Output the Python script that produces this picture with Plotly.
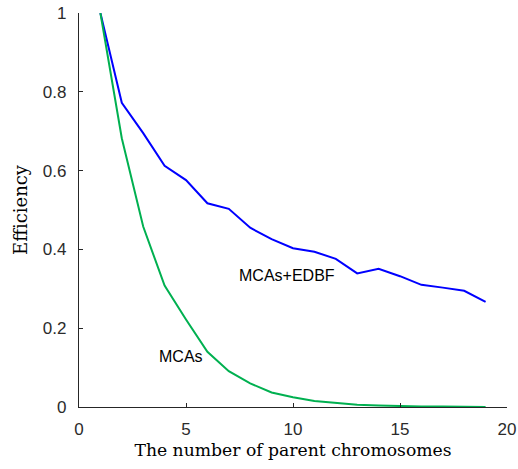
import plotly.graph_objects as go

parents = list(range(1, 20))
mcas_edbf = [1.0, 0.772, 0.695, 0.612, 0.576, 0.517, 0.503, 0.455, 0.426, 0.403,
             0.394, 0.376, 0.339, 0.351, 0.332, 0.310, 0.303, 0.295, 0.267]
mcas = [1.0, 0.682, 0.458, 0.308, 0.222, 0.140, 0.091, 0.060, 0.037, 0.025,
        0.015, 0.010, 0.006, 0.004, 0.002, 0.001, 0.001, 0.0, 0.0]

x_ticks = [0, 5, 10, 15, 20]
y_ticks = [0, 0.2, 0.4, 0.6, 0.8, 1]
y_tick_text = ["0", "0.2", "0.4", "0.6", "0.8", "1"]

fig = go.Figure()
fig.add_trace(go.Scatter(x=parents, y=mcas_edbf, mode="lines",
                         line=dict(color="#0000FF", width=2), showlegend=False))
fig.add_trace(go.Scatter(x=parents, y=mcas, mode="lines",
                         line=dict(color="#00B050", width=2), showlegend=False))

fig.add_annotation(x=9.7, y=0.333, text="MCAs+EDBF", showarrow=False,
                   font=dict(family="Liberation Sans, Arial", size=16, color="#000000"))
fig.add_annotation(x=4.75, y=0.129, text="MCAs", showarrow=False,
                   font=dict(family="Liberation Sans, Arial", size=16, color="#000000"))

axis_common = dict(showgrid=False, zeroline=False, showline=True, linecolor="#262626",
                   linewidth=1.3, ticks="inside", ticklen=4, tickcolor="#262626",
                   automargin=False,
                   tickfont=dict(family="Liberation Sans, Arial", size=17, color="#2b2b2b"))

fig.update_xaxes(range=[0, 20], tickvals=x_ticks, ticklabelstandoff=6, **axis_common,
                 title=dict(text="The number of parent chromosomes", standoff=6,
                            font=dict(family="DejaVu Serif", size=17.2, color="#000000")))
fig.update_yaxes(range=[0, 1], tickvals=y_ticks, ticktext=y_tick_text, ticklabelstandoff=8,
                 **axis_common,
                 title=dict(text="Efficiency", standoff=10,
                            font=dict(family="DejaVu Serif", size=18, color="#000000")))

fig.update_layout(width=518, height=469, plot_bgcolor="white", paper_bgcolor="white",
                  margin=dict(l=79, r=11, t=13, b=62, autoexpand=False))

fig.write_html("out.html", config={"displayModeBar": False},
               post_script="document.body.style.margin='0';document.body.style.overflow='hidden';")
